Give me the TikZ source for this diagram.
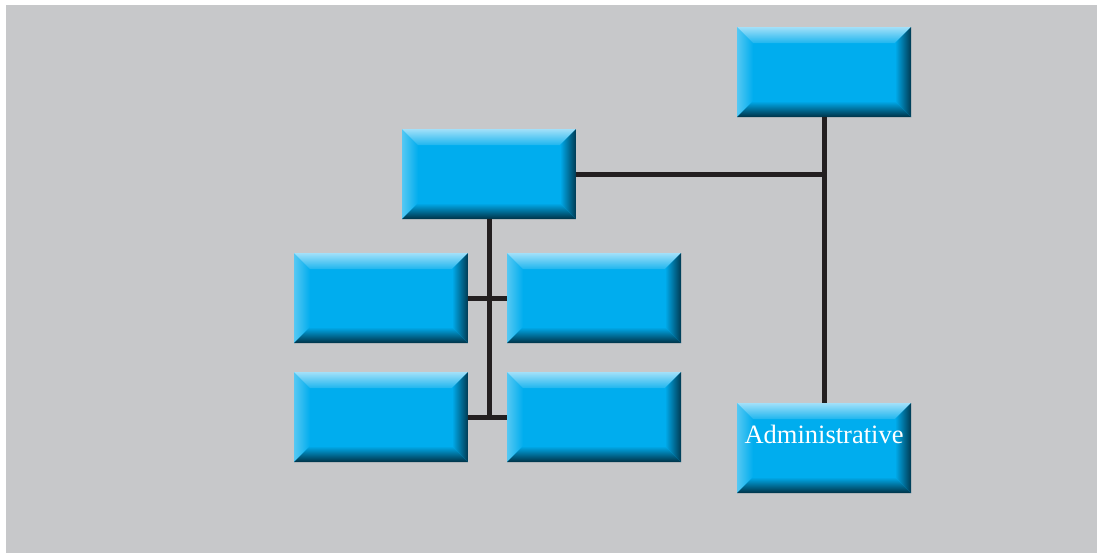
\documentclass[tikz,border=0pt]{standalone}
\usepackage{fontspec}
\setmainfont{Liberation Serif}
\definecolor{bg}{HTML}{C7C8CA}
\definecolor{boxblue}{HTML}{00ADEE}
\definecolor{bevtop}{HTML}{A2E0F9}
\definecolor{bevtopb}{HTML}{1EB6EF}
\definecolor{bevleft}{HTML}{55C8F3}
\definecolor{bevbot}{HTML}{003246}
\definecolor{bevright}{HTML}{003A52}
\definecolor{linecol}{HTML}{231F20}
\tikzset{
 bevel/.style={rectangle, minimum width=174pt, minimum height=90pt, inner sep=0pt, fill=boxblue,
  path picture={
   \coordinate (NW) at (path picture bounding box.north west);
   \coordinate (SE) at (path picture bounding box.south east);
   \coordinate (NE) at (path picture bounding box.north east);
   \coordinate (SW) at (path picture bounding box.south west);
   \shade[left color=bevleft, right color=boxblue] (NW) -- ([shift={(16pt,-16pt)}]NW) -- ([shift={(16pt,16pt)}]SW) -- (SW) -- cycle;
   \shade[top color=bevtop, bottom color=bevtopb] (NW) -- (NE) -- ([shift={(-16pt,-16pt)}]NE) -- ([shift={(16pt,-16pt)}]NW) -- cycle;
   \shade[top color=boxblue, bottom color=bevbot] (SW) -- ([shift={(16pt,16pt)}]SW) -- ([shift={(-16pt,16pt)}]SE) -- (SE) -- cycle;
   \shade[left color=boxblue, right color=bevright] (NE) -- (SE) -- ([shift={(-16pt,16pt)}]SE) -- ([shift={(-16pt,-16pt)}]NE) -- cycle;
  }},
 conn/.style={draw=linecol, line width=5pt},
 lbl/.style={text=white, font=\fontsize{26.5}{30}\selectfont, inner sep=0pt, anchor=base}
}
\begin{document}
\begin{tikzpicture}[x=1pt,y=-1pt]
\fill[white] (0,0) rectangle (1101,555);
\useasboundingbox (0,0) rectangle (1101,555);
\fill[bg] (6,5) rectangle (1097,553);
\node[bevel] (top) at (824,72) {};
\node[bevel] (mid) at (489,174) {};
\node[bevel] (r1l) at (381,298) {};
\node[bevel] (r1r) at (594,298) {};
\node[bevel] (r2l) at (381,417) {};
\node[bevel] (r2r) at (594,417) {};
\node[bevel] (admin) at (824,448) {};
\node[lbl] (admintext) at (824,443) {Administrative};
\draw[conn] (top.south) -- (admin.north);
\draw[conn] (mid.east) -- (mid.east -| top.south);
\draw[conn] (mid.south) -- (mid.south |- r2l.east);
\draw[conn] (r1l.east) -- (r1r.west);
\draw[conn] (r2l.east) -- (r2r.west);
\end{tikzpicture}
\end{document}
